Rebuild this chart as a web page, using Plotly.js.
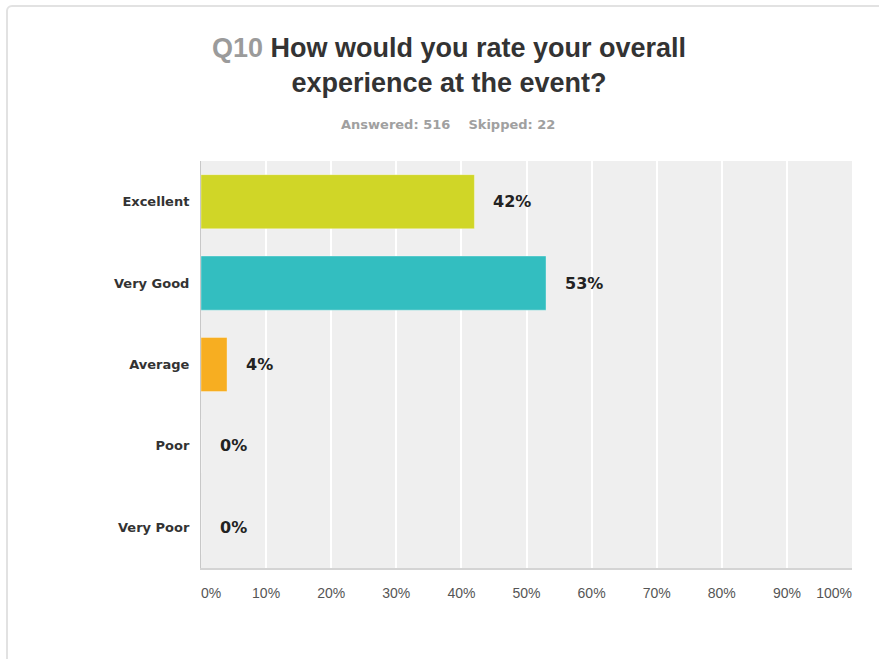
<!DOCTYPE html>
<html>
<head>
<meta charset="utf-8">
<script src="https://cdn.plot.ly/plotly-3.0.1.min.js"></script>
<style>
  html, body { margin: 0; padding: 0; background: #ffffff; overflow: hidden; }
  #card {
    position: absolute; left: 6px; top: 5px; width: 920px; height: 720px;
    border: 2px solid #e2e2e2; border-radius: 6px; box-sizing: border-box;
  }
  #chart { position: absolute; left: 0; top: 0; width: 879px; height: 659px; }
</style>
</head>
<body>
<div id="card"></div>
<div id="chart"></div>
<script>
// Survey question Q10: share of respondents per rating
const categories = ['Excellent', 'Very Good', 'Average', 'Poor', 'Very Poor'];
const percents = [42, 53, 4, 0, 0];
const barColors = ['#d0d627', '#33bec0', '#f7ae21', '#cccccc', '#cccccc'];
const tickValues = [0, 10, 20, 30, 40, 50, 60, 70, 80, 90, 100];
const tickLabels = ['0%', '10%', '20%', '30%', '40%', '50%', '60%', '70%', '80%', '90%', '100%'];
const answered = 516;
const skipped = 22;

const sans = 'Liberation Sans, Arial, sans-serif';
const verdanaLike = 'DejaVu Sans, Verdana, sans-serif';

const bars = {
  type: 'bar',
  orientation: 'h',
  x: percents,
  y: categories,
  marker: { color: barColors, line: { color: 'rgba(255,255,255,0.35)', width: 1 } },
  hoverinfo: 'none',
  showlegend: false
};

// empty helpers so the two end-label axes get drawn
const endAxisLeft = { type: 'scatter', x: [], y: [], xaxis: 'x2', yaxis: 'y', showlegend: false, hoverinfo: 'none' };
const endAxisRight = { type: 'scatter', x: [], y: [], xaxis: 'x3', yaxis: 'y', showlegend: false, hoverinfo: 'none' };

// value labels to the right of each bar
const valueLabels = categories.map((c, i) => ({
  x: percents[i], y: c, xref: 'x', yref: 'y',
  text: percents[i] + '%',
  showarrow: false, xanchor: 'left', yanchor: 'middle', xshift: 17,
  font: { family: verdanaLike, size: 16, color: '#222222', weight: 'bold' }
}));

const subtitle = {
  xref: 'paper', yref: 'paper', x: (448 - 201) / 651, y: 1 + (161 - 125) / 407,
  xanchor: 'center', yanchor: 'middle', showarrow: false,
  text: 'Answered: ' + answered + '&nbsp;&nbsp;&nbsp;&nbsp;Skipped: ' + skipped,
  font: { family: verdanaLike, size: 13, color: '#a0a0a0', weight: 'bold' }
};

const inner = tickValues.slice(1, -1);
const innerText = tickLabels.slice(1, -1);
const tickFont = { family: sans, size: 14, color: '#555555' };

const layout = {
  width: 879, height: 659,
  margin: { l: 201, r: 27, t: 161, b: 91 },
  paper_bgcolor: 'rgba(0,0,0,0)',
  plot_bgcolor: '#efefef',
  bargap: 0.335,
  title: {
    text: '<span style="color:#9b9b9b">Q10</span> How would you rate your overall<br>experience at the event?',
    font: { family: sans, size: 27, color: '#333333', weight: 'bold' },
    x: 449 / 879, xanchor: 'center',
    y: 1 - 57 / 659, yanchor: 'top', yref: 'container'
  },
  xaxis: {
    range: [0, 100], fixedrange: true,
    tickvals: inner, ticktext: innerText,
    showgrid: true, gridcolor: '#ffffff', gridwidth: 2,
    zeroline: false, showline: true, linecolor: '#d4d4d4', linewidth: 2,
    ticks: '', ticklabelstandoff: 11, tickfont: tickFont
  },
  // end labels sit inside the range: 0% starts at the axis, 100% ends at it
  xaxis2: {
    overlaying: 'x', anchor: 'y', side: 'bottom', range: [0, 100], fixedrange: true,
    tickvals: [tickValues[0]], ticktext: [tickLabels[0]],
    ticklabelposition: 'outside right',
    showgrid: false, zeroline: false, showline: false,
    ticks: '', ticklabelstandoff: 15, tickfont: tickFont
  },
  xaxis3: {
    overlaying: 'x', anchor: 'y', side: 'bottom', range: [0, 100], fixedrange: true,
    tickvals: [tickValues[tickValues.length - 1]], ticktext: [tickLabels[tickLabels.length - 1]],
    ticklabelposition: 'outside left',
    showgrid: false, zeroline: false, showline: false,
    ticks: '', ticklabelstandoff: 15, tickfont: tickFont
  },
  yaxis: {
    type: 'category', autorange: 'reversed', fixedrange: true,
    showgrid: false, zeroline: false, showline: true, linecolor: '#c8c8c8', linewidth: 1,
    ticks: '', ticklabelstandoff: 8,
    tickfont: { family: verdanaLike, size: 13, color: '#333333', weight: 'bold' }
  },
  annotations: valueLabels.concat([subtitle])
};

Plotly.newPlot('chart', [bars, endAxisLeft, endAxisRight], layout, { displayModeBar: false, staticPlot: true });
</script>
</body>
</html>
